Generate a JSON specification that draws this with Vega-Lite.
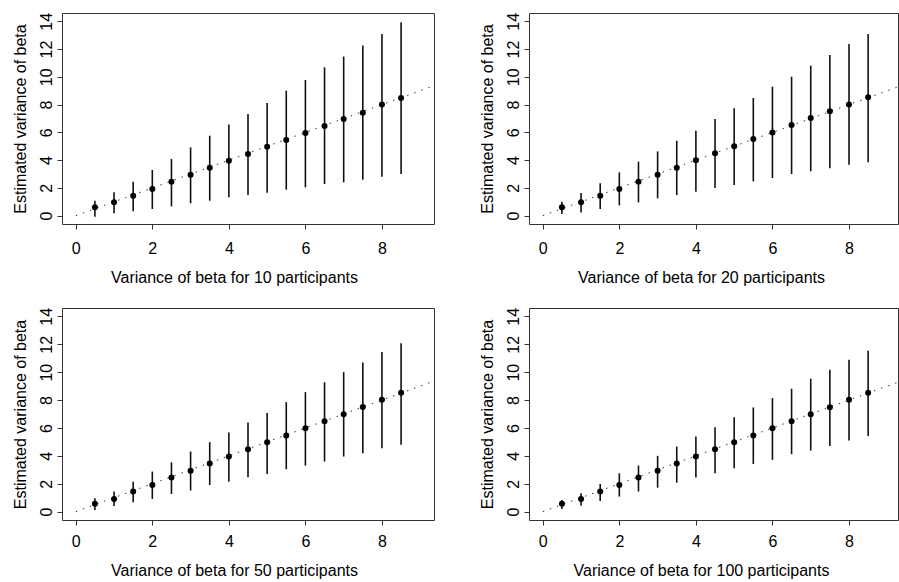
{
  "$schema": "https://vega.github.io/schema/vega-lite/v6.json",
  "background": "white",
  "padding": {"left": 11, "top": 11, "right": 0, "bottom": 5},
  "bounds": "flush",
  "columns": 2,
  "spacing": {"row": 84, "column": 95},
  "datasets": {
    "ref": [{"x": 0, "y": 0}, {"x": 9.36, "y": 9.36}],
    "pts": [
      {"n": 10, "x": 0.5, "est": 0.60, "lo": -0.07, "hi": 1.08},
      {"n": 10, "x": 1.0, "est": 0.96, "lo": 0.17, "hi": 1.68},
      {"n": 10, "x": 1.5, "est": 1.44, "lo": 0.31, "hi": 2.45},
      {"n": 10, "x": 2.0, "est": 1.92, "lo": 0.48, "hi": 3.29},
      {"n": 10, "x": 2.5, "est": 2.45, "lo": 0.67, "hi": 4.08},
      {"n": 10, "x": 3.0, "est": 2.95, "lo": 0.89, "hi": 4.92},
      {"n": 10, "x": 3.5, "est": 3.46, "lo": 1.08, "hi": 5.76},
      {"n": 10, "x": 4.0, "est": 3.96, "lo": 1.32, "hi": 6.56},
      {"n": 10, "x": 4.5, "est": 4.44, "lo": 1.49, "hi": 7.32},
      {"n": 10, "x": 5.0, "est": 4.97, "lo": 1.66, "hi": 8.12},
      {"n": 10, "x": 5.5, "est": 5.45, "lo": 1.87, "hi": 9.00},
      {"n": 10, "x": 6.0, "est": 5.96, "lo": 2.04, "hi": 9.77},
      {"n": 10, "x": 6.5, "est": 6.46, "lo": 2.28, "hi": 10.69},
      {"n": 10, "x": 7.0, "est": 6.96, "lo": 2.40, "hi": 11.46},
      {"n": 10, "x": 7.5, "est": 7.42, "lo": 2.59, "hi": 12.25},
      {"n": 10, "x": 8.0, "est": 8.00, "lo": 2.81, "hi": 13.09},
      {"n": 10, "x": 8.5, "est": 8.48, "lo": 3.00, "hi": 13.93},
      {"n": 20, "x": 0.5, "est": 0.60, "lo": 0.12, "hi": 1.01},
      {"n": 20, "x": 1.0, "est": 0.96, "lo": 0.22, "hi": 1.63},
      {"n": 20, "x": 1.5, "est": 1.44, "lo": 0.48, "hi": 2.33},
      {"n": 20, "x": 2.0, "est": 1.92, "lo": 0.74, "hi": 3.12},
      {"n": 20, "x": 2.5, "est": 2.45, "lo": 0.96, "hi": 3.89},
      {"n": 20, "x": 3.0, "est": 2.95, "lo": 1.25, "hi": 4.63},
      {"n": 20, "x": 3.5, "est": 3.46, "lo": 1.49, "hi": 5.40},
      {"n": 20, "x": 4.0, "est": 3.99, "lo": 1.73, "hi": 6.12},
      {"n": 20, "x": 4.5, "est": 4.49, "lo": 1.99, "hi": 6.96},
      {"n": 20, "x": 5.0, "est": 5.00, "lo": 2.21, "hi": 7.73},
      {"n": 20, "x": 5.5, "est": 5.52, "lo": 2.47, "hi": 8.48},
      {"n": 20, "x": 6.0, "est": 6.00, "lo": 2.71, "hi": 9.29},
      {"n": 20, "x": 6.5, "est": 6.53, "lo": 3.00, "hi": 10.01},
      {"n": 20, "x": 7.0, "est": 7.04, "lo": 3.19, "hi": 10.81},
      {"n": 20, "x": 7.5, "est": 7.52, "lo": 3.41, "hi": 11.58},
      {"n": 20, "x": 8.0, "est": 8.00, "lo": 3.67, "hi": 12.37},
      {"n": 20, "x": 8.5, "est": 8.53, "lo": 3.84, "hi": 13.09},
      {"n": 50, "x": 0.5, "est": 0.57, "lo": 0.12, "hi": 0.96},
      {"n": 50, "x": 1.0, "est": 0.91, "lo": 0.41, "hi": 1.44},
      {"n": 50, "x": 1.5, "est": 1.44, "lo": 0.67, "hi": 2.15},
      {"n": 50, "x": 2.0, "est": 1.91, "lo": 0.91, "hi": 2.87},
      {"n": 50, "x": 2.5, "est": 2.44, "lo": 1.27, "hi": 3.54},
      {"n": 50, "x": 3.0, "est": 2.94, "lo": 1.51, "hi": 4.31},
      {"n": 50, "x": 3.5, "est": 3.45, "lo": 1.91, "hi": 4.98},
      {"n": 50, "x": 4.0, "est": 3.95, "lo": 2.15, "hi": 5.67},
      {"n": 50, "x": 4.5, "est": 4.47, "lo": 2.46, "hi": 6.39},
      {"n": 50, "x": 5.0, "est": 4.98, "lo": 2.70, "hi": 7.08},
      {"n": 50, "x": 5.5, "est": 5.46, "lo": 3.04, "hi": 7.85},
      {"n": 50, "x": 6.0, "est": 5.98, "lo": 3.30, "hi": 8.57},
      {"n": 50, "x": 6.5, "est": 6.48, "lo": 3.59, "hi": 9.28},
      {"n": 50, "x": 7.0, "est": 6.99, "lo": 3.95, "hi": 10.00},
      {"n": 50, "x": 7.5, "est": 7.51, "lo": 4.19, "hi": 10.70},
      {"n": 50, "x": 8.0, "est": 8.02, "lo": 4.55, "hi": 11.44},
      {"n": 50, "x": 8.5, "est": 8.52, "lo": 4.79, "hi": 12.08},
      {"n": 100, "x": 0.5, "est": 0.57, "lo": 0.19, "hi": 0.84},
      {"n": 100, "x": 1.0, "est": 0.91, "lo": 0.43, "hi": 1.32},
      {"n": 100, "x": 1.5, "est": 1.44, "lo": 0.77, "hi": 1.99},
      {"n": 100, "x": 2.0, "est": 1.91, "lo": 1.08, "hi": 2.75},
      {"n": 100, "x": 2.5, "est": 2.44, "lo": 1.44, "hi": 3.30},
      {"n": 100, "x": 3.0, "est": 2.94, "lo": 1.72, "hi": 4.00},
      {"n": 100, "x": 3.5, "est": 3.45, "lo": 2.08, "hi": 4.67},
      {"n": 100, "x": 4.0, "est": 3.95, "lo": 2.44, "hi": 5.38},
      {"n": 100, "x": 4.5, "est": 4.47, "lo": 2.75, "hi": 6.05},
      {"n": 100, "x": 5.0, "est": 4.98, "lo": 3.11, "hi": 6.77},
      {"n": 100, "x": 5.5, "est": 5.46, "lo": 3.42, "hi": 7.47},
      {"n": 100, "x": 6.0, "est": 5.98, "lo": 3.71, "hi": 8.14},
      {"n": 100, "x": 6.5, "est": 6.48, "lo": 4.12, "hi": 8.81},
      {"n": 100, "x": 7.0, "est": 6.99, "lo": 4.38, "hi": 9.53},
      {"n": 100, "x": 7.5, "est": 7.49, "lo": 4.71, "hi": 10.17},
      {"n": 100, "x": 8.0, "est": 8.02, "lo": 5.10, "hi": 10.89},
      {"n": 100, "x": 8.5, "est": 8.52, "lo": 5.43, "hi": 11.53}
    ]
  },
  "concat": [
    {
      "width": 372, "height": 211,
      "layer": [
        {"data": {"name": "ref"}, "mark": {"type": "line", "strokeDash": [1.5, 6], "color": "#333", "strokeWidth": 1, "clip": true},
         "encoding": {
           "x": {"field": "x", "type": "quantitative", "scale": {"domain": [-0.36, 9.36], "nice": false, "zero": false}, "axis": {"values": [0, 2, 4, 6, 8], "tickCount": 5, "labelPadding": 24, "titleY": 58, "title": "Variance of beta for 10 participants"}},
           "y": {"field": "y", "type": "quantitative", "scale": {"domain": [-0.6, 14.6], "nice": false, "zero": false}, "axis": {"values": [0, 2, 4, 6, 8, 10, 12, 14], "tickCount": 8, "titleY": 105.5, "title": "Estimated variance of beta"}}}},
        {"data": {"name": "pts"}, "transform": [{"filter": "datum.n == 10"}], "mark": {"type": "rule", "color": "#111", "strokeWidth": 1.6},
         "encoding": {
           "x": {"field": "x", "type": "quantitative", "axis": {"values": [0, 2, 4, 6, 8], "tickCount": 5, "labelPadding": 24, "titleY": 58, "title": "Variance of beta for 10 participants"}},
           "y": {"field": "lo", "type": "quantitative", "axis": {"values": [0, 2, 4, 6, 8, 10, 12, 14], "tickCount": 8, "titleY": 105.5, "title": "Estimated variance of beta"}},
           "y2": {"field": "hi"}}},
        {"data": {"name": "pts"}, "transform": [{"filter": "datum.n == 10"}], "mark": {"type": "point", "filled": true, "color": "black", "size": 36, "opacity": 1},
         "encoding": {
           "x": {"field": "x", "type": "quantitative", "axis": {"values": [0, 2, 4, 6, 8], "tickCount": 5, "labelPadding": 24, "titleY": 58, "title": "Variance of beta for 10 participants"}},
           "y": {"field": "est", "type": "quantitative", "axis": {"values": [0, 2, 4, 6, 8, 10, 12, 14], "tickCount": 8, "titleY": 105.5, "title": "Estimated variance of beta"}}}}
      ]
    },
    {
      "width": 369, "height": 211,
      "layer": [
        {"data": {"name": "ref"}, "mark": {"type": "line", "strokeDash": [1.5, 6], "color": "#333", "strokeWidth": 1, "clip": true},
         "encoding": {
           "x": {"field": "x", "type": "quantitative", "scale": {"domain": [-0.36, 9.28], "nice": false, "zero": false}, "axis": {"values": [0, 2, 4, 6, 8], "tickCount": 5, "labelPadding": 24, "titleY": 58, "title": "Variance of beta for 20 participants"}},
           "y": {"field": "y", "type": "quantitative", "scale": {"domain": [-0.6, 14.6], "nice": false, "zero": false}, "axis": {"values": [0, 2, 4, 6, 8, 10, 12, 14], "tickCount": 8, "titleY": 105.5, "title": "Estimated variance of beta"}}}},
        {"data": {"name": "pts"}, "transform": [{"filter": "datum.n == 20"}], "mark": {"type": "rule", "color": "#111", "strokeWidth": 1.6},
         "encoding": {
           "x": {"field": "x", "type": "quantitative", "axis": {"values": [0, 2, 4, 6, 8], "tickCount": 5, "labelPadding": 24, "titleY": 58, "title": "Variance of beta for 20 participants"}},
           "y": {"field": "lo", "type": "quantitative", "axis": {"values": [0, 2, 4, 6, 8, 10, 12, 14], "tickCount": 8, "titleY": 105.5, "title": "Estimated variance of beta"}},
           "y2": {"field": "hi"}}},
        {"data": {"name": "pts"}, "transform": [{"filter": "datum.n == 20"}], "mark": {"type": "point", "filled": true, "color": "black", "size": 36, "opacity": 1},
         "encoding": {
           "x": {"field": "x", "type": "quantitative", "axis": {"values": [0, 2, 4, 6, 8], "tickCount": 5, "labelPadding": 24, "titleY": 58, "title": "Variance of beta for 20 participants"}},
           "y": {"field": "est", "type": "quantitative", "axis": {"values": [0, 2, 4, 6, 8, 10, 12, 14], "tickCount": 8, "titleY": 105.5, "title": "Estimated variance of beta"}}}}
      ]
    },
    {
      "width": 372, "height": 212,
      "layer": [
        {"data": {"name": "ref"}, "mark": {"type": "line", "strokeDash": [1.5, 6], "color": "#333", "strokeWidth": 1, "clip": true},
         "encoding": {
           "x": {"field": "x", "type": "quantitative", "scale": {"domain": [-0.36, 9.36], "nice": false, "zero": false}, "axis": {"values": [0, 2, 4, 6, 8], "tickCount": 5, "labelPadding": 21.5, "titleY": 55, "title": "Variance of beta for 50 participants"}},
           "y": {"field": "y", "type": "quantitative", "scale": {"domain": [-0.6, 14.6], "nice": false, "zero": false}, "axis": {"values": [0, 2, 4, 6, 8, 10, 12, 14], "tickCount": 8, "titleY": 106, "title": "Estimated variance of beta"}}}},
        {"data": {"name": "pts"}, "transform": [{"filter": "datum.n == 50"}], "mark": {"type": "rule", "color": "#111", "strokeWidth": 1.6},
         "encoding": {
           "x": {"field": "x", "type": "quantitative", "axis": {"values": [0, 2, 4, 6, 8], "tickCount": 5, "labelPadding": 21.5, "titleY": 55, "title": "Variance of beta for 50 participants"}},
           "y": {"field": "lo", "type": "quantitative", "axis": {"values": [0, 2, 4, 6, 8, 10, 12, 14], "tickCount": 8, "titleY": 106, "title": "Estimated variance of beta"}},
           "y2": {"field": "hi"}}},
        {"data": {"name": "pts"}, "transform": [{"filter": "datum.n == 50"}], "mark": {"type": "point", "filled": true, "color": "black", "size": 36, "opacity": 1},
         "encoding": {
           "x": {"field": "x", "type": "quantitative", "axis": {"values": [0, 2, 4, 6, 8], "tickCount": 5, "labelPadding": 21.5, "titleY": 55, "title": "Variance of beta for 50 participants"}},
           "y": {"field": "est", "type": "quantitative", "axis": {"values": [0, 2, 4, 6, 8, 10, 12, 14], "tickCount": 8, "titleY": 106, "title": "Estimated variance of beta"}}}}
      ]
    },
    {
      "width": 369, "height": 212,
      "layer": [
        {"data": {"name": "ref"}, "mark": {"type": "line", "strokeDash": [1.5, 6], "color": "#333", "strokeWidth": 1, "clip": true},
         "encoding": {
           "x": {"field": "x", "type": "quantitative", "scale": {"domain": [-0.36, 9.28], "nice": false, "zero": false}, "axis": {"values": [0, 2, 4, 6, 8], "tickCount": 5, "labelPadding": 21.5, "titleY": 55, "title": "Variance of beta for 100 participants"}},
           "y": {"field": "y", "type": "quantitative", "scale": {"domain": [-0.6, 14.6], "nice": false, "zero": false}, "axis": {"values": [0, 2, 4, 6, 8, 10, 12, 14], "tickCount": 8, "titleY": 106, "title": "Estimated variance of beta"}}}},
        {"data": {"name": "pts"}, "transform": [{"filter": "datum.n == 100"}], "mark": {"type": "rule", "color": "#111", "strokeWidth": 1.6},
         "encoding": {
           "x": {"field": "x", "type": "quantitative", "axis": {"values": [0, 2, 4, 6, 8], "tickCount": 5, "labelPadding": 21.5, "titleY": 55, "title": "Variance of beta for 100 participants"}},
           "y": {"field": "lo", "type": "quantitative", "axis": {"values": [0, 2, 4, 6, 8, 10, 12, 14], "tickCount": 8, "titleY": 106, "title": "Estimated variance of beta"}},
           "y2": {"field": "hi"}}},
        {"data": {"name": "pts"}, "transform": [{"filter": "datum.n == 100"}], "mark": {"type": "point", "filled": true, "color": "black", "size": 36, "opacity": 1},
         "encoding": {
           "x": {"field": "x", "type": "quantitative", "axis": {"values": [0, 2, 4, 6, 8], "tickCount": 5, "labelPadding": 21.5, "titleY": 55, "title": "Variance of beta for 100 participants"}},
           "y": {"field": "est", "type": "quantitative", "axis": {"values": [0, 2, 4, 6, 8, 10, 12, 14], "tickCount": 8, "titleY": 106, "title": "Estimated variance of beta"}}}}
      ]
    }
  ],
  "config": {
    "view": {"stroke": "#333", "strokeWidth": 1},
    "axis": {
      "grid": false, "domain": false, "tickColor": "#333", "tickSize": 5,
      "labelFont": "Liberation Sans", "labelFontSize": 16, "labelColor": "black",
      "titleFont": "Liberation Sans", "titleFontSize": 16, "titleFontWeight": "normal", "titleColor": "black",
      "labelOverlap": false, "labelFlush": false
    },
    "axisX": {"labelBaseline": "alphabetic", "titleBaseline": "alphabetic", "titleX": 172, "titleAlign": "center"},
    "axisY": {"labelAngle": -90, "labelAlign": "center", "labelBaseline": "alphabetic", "labelPadding": 6, "labelOverlap": false, "titleAngle": -90, "titleBaseline": "alphabetic", "titleAlign": "center", "titleX": -37}
  }
}
